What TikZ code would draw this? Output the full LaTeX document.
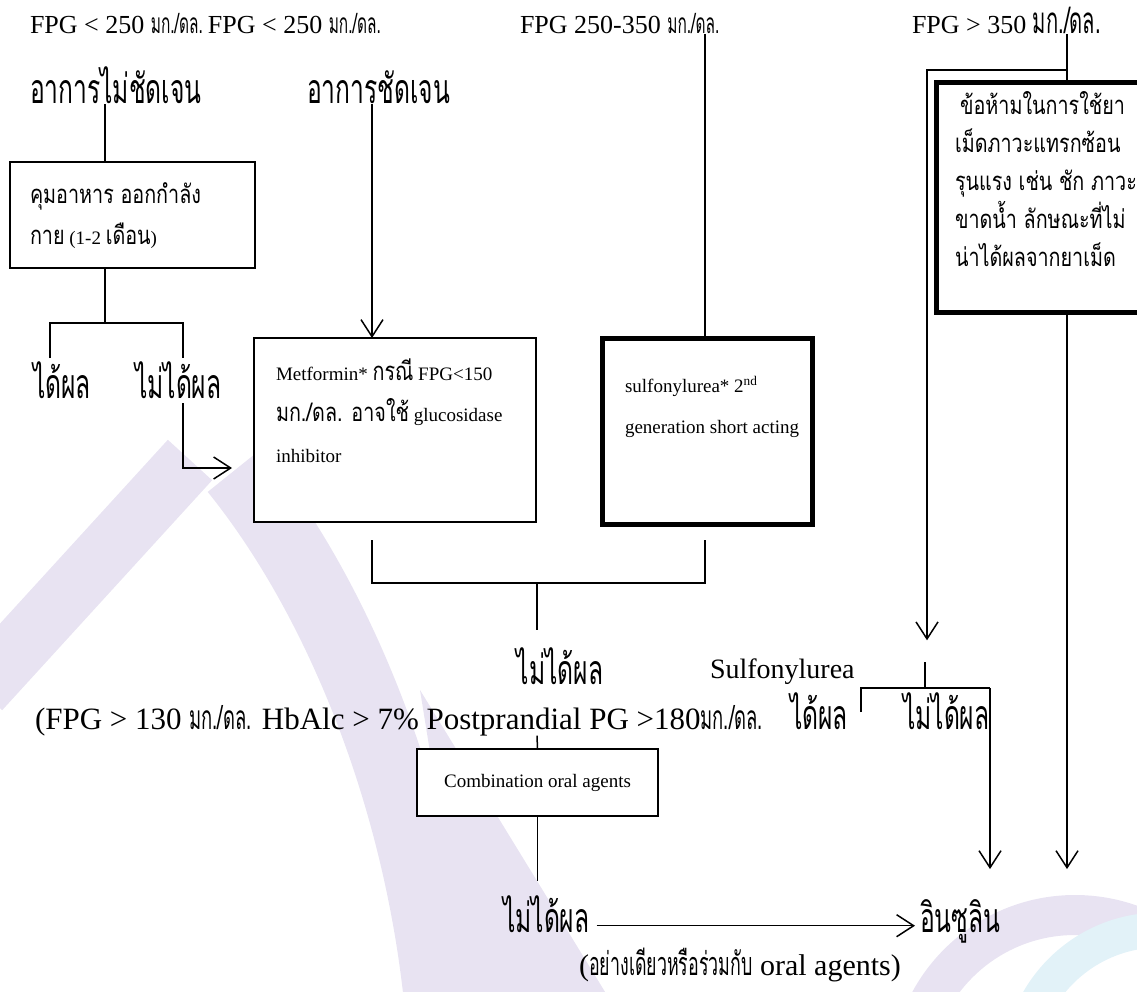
\documentclass[tikz,border=0pt]{standalone}
\usepackage{fontspec}
\setmainfont{Liberation Serif}
\newfontfamily\thlbl[Script=Thai,Scale=1.08,FakeStretch=0.55]{Loma}
\newfontfamily\thbig[Script=Thai,Scale=1.08,FakeStretch=0.6]{Loma}
\newfontfamily\thbox[Script=Thai,Scale=1.35,FakeStretch=0.77]{Loma}
\newcommand\tl[1]{{\thlbl #1}}
\newcommand\tb[1]{{\thbox #1}}
\usetikzlibrary{arrows.meta,positioning}
\definecolor{wmlilac}{RGB}{232,227,242}
\definecolor{wmcyan}{RGB}{226,242,248}

\begin{document}
\begin{tikzpicture}[x=1pt,y=-1pt,inner sep=0pt,outer sep=0pt,line width=1.5pt,
lbl/.style={font=\fontsize{26}{30}\selectfont},
biglbl/.style={font=\fontsize{38}{42}\selectfont\thbig},
boxtxt/.style={font=\fontsize{19}{41}\selectfont,align=left},
flowbox/.style={draw,rectangle,line width=2.2pt,fill=white},
heavybox/.style={draw,rectangle,line width=5pt,fill=white},
arr/.style={-{Straight Barb[length=17pt,width=22pt]}}]
\useasboundingbox (0,0) rectangle (1137,992);

% faint watermark behind the chart
\begin{scope}
\clip (0,0) rectangle (1137,992);
\draw[wmlilac,line width=60pt] (-20,690) -- (190,460);
\draw[wmlilac,line width=70pt] (235,470) .. controls (340,600) and (420,800) .. (440,1010);
\fill[wmlilac] (420,690) -- (610,1000) -- (470,1000) -- cycle;
\draw[wmlilac,line width=40pt] (1075,1080) circle (165);
\draw[wmcyan,line width=35pt] (1160,1070) circle (140);
\end{scope}

% levels of FPG
\node[lbl,anchor=base west] (fpgA) at (30,34) {FPG < 250 \tl{มก./ดล.}};
\node[lbl,anchor=base west] (fpgB) at ([xshift=5]fpgA.base east) {FPG < 250 \tl{มก./ดล.}};
\node[lbl,anchor=base west] (fpgC) at (520,34) {FPG 250-350 \tl{มก./ดล.}};
\node[lbl,anchor=base west] (fpgD) at (912,34) {FPG > 350 \tl{\fontsize{34}{36}\selectfont มก./ดล.}};
\node[biglbl,anchor=base west] (vague) at (30,104) {อาการไม่ชัดเจน};
\node[biglbl,anchor=base west] (clear) at (307,104) {อาการชัดเจน};

% treatment boxes
\node[flowbox,anchor=north west,minimum width=245pt,minimum height=106pt] (diet) at (10,162) {};
\node[boxtxt,anchor=base west] (dietT) at (30,245) {\tb{คุมอาหาร ออกกำลัง}\\\tb{กาย} (1-2 \tb{เดือน})};
\node[flowbox,anchor=north west,minimum width=282pt,minimum height=184pt] (metf) at (254,338) {};
\node[boxtxt,anchor=base west] (metfT) at (276,462) {Metformin* \tb{กรณี} FPG<150\\\tb{มก./ดล. อาจใช้} glucosidase\\inhibitor};
\node[heavybox,anchor=north west,minimum width=210pt,minimum height=186pt] (sulf) at (602,338) {};
\node[boxtxt,anchor=base west] (sulfT) at (625,433) {sulfonylurea* 2\textsuperscript{nd}\\generation short acting};
\node[heavybox,anchor=north west,minimum width=215pt,minimum height=229pt] (contra) at (936,83) {};
\node[boxtxt,anchor=base west,font=\fontsize{19}{38}\selectfont] (contraT) at (955,266)
  {\hspace{5pt}\tb{ข้อห้ามในการใช้ยา}\\\tb{เม็ดภาวะแทรกซ้อน}\\\tb{รุนแรง เช่น ชัก ภาวะ}\\\tb{ขาดน้ำ ลักษณะที่ไม่}\\\tb{น่าได้ผลจากยาเม็ด}};

% results
\node[biglbl,anchor=base west] (ok1) at (33,398) {ได้ผล};
\node[biglbl,anchor=base west] (fail1) at (135,398) {ไม่ได้ผล};
\node[biglbl,anchor=base] (fail2) at (560,684) {ไม่ได้ผล};
\node[lbl,anchor=base west,font=\fontsize{28}{32}\selectfont] (sulfo) at (710,678) {Sulfonylurea};
\node[lbl,anchor=base west,font=\fontsize{31}{34}\selectfont] (target) at (35,729) {(FPG > 130 \tl{มก./ดล.} HbAlc > 7\% Postprandial PG >180\tl{มก./ดล.}};
\node[biglbl,anchor=base west] (ok2) at (790,729) {ได้ผล};
\node[biglbl,anchor=base west] (fail3) at (903,729) {ไม่ได้ผล};
\node[flowbox,anchor=north west,minimum width=241pt,minimum height=67pt,font=\fontsize{19}{22}\selectfont] (combo) at (417,749) {Combination oral agents};
\node[biglbl,anchor=base west] (fail4) at (503,932) {ไม่ได้ผล};
\node[biglbl,anchor=base west] (insulin) at (920,932) {อินซูลิน};
\node[lbl,anchor=base,font=\fontsize{30}{34}\selectfont] (note) at (740,975) {(\tl{อย่างเดียวหรือร่วมกับ} oral agents)};

% junction points
\coordinate (dj) at (105,323);
\coordinate (djl) at (50,323);
\coordinate (djr) at (183,323);
\coordinate (mjl) at (372,583);
\coordinate (mj) at (537,583);
\coordinate (mjr) at (705,583);
\coordinate (rj) at (1067,70);
\coordinate (rjl) at (927,70);
\coordinate (sj) at (925,688);
\coordinate (sjl) at (861,688);
\coordinate (sjr) at (990,688);

% connectors
\draw (dj |- vague.south) -- (dj |- diet.north);
\draw (dj |- diet.south) -- (dj);
\draw ([yshift=-35]djl) -- (djl) -- (djr) -- ([yshift=-35]djr);
\draw[arr] ([yshift=-5]fail1.south -| djr) |- ([xshift=-22]metf.west |- 0,468);
\draw[arr] (mjl |- clear.south) -- (mjl |- metf.north);
\draw (mjr |- fpgC.south) -- (mjr |- sulf.north);
\draw ([yshift=43]mjl) -- (mjl) -- (mjr) -- ([yshift=43]mjr);
\draw (mj) -- ([yshift=-47]mj);
\draw (mj |- target.south) -- (combo.north);
\draw (combo.south) -- ([yshift=14]combo.south |- fail4.north);
\draw[arr] ([xshift=7,yshift=4]fail4.mid east) -- ([xshift=-5,yshift=4]insulin.mid west);
\draw (rj |- fpgD.south) -- (rj |- contra.north);
\draw[arr] (rj) -- (rjl) -- ([yshift=18]rjl |- sulfo.north);
\draw ([yshift=26]sj) -- (sj);
\draw ([yshift=-24]sjl) -- (sjl) -- (sjr);
\draw[arr] (sjr) -- ([yshift=30]sjr |- insulin.north);
\draw[arr] (rj |- contra.south) -- ([yshift=30]rj |- insulin.north);
\end{tikzpicture}
\end{document}
